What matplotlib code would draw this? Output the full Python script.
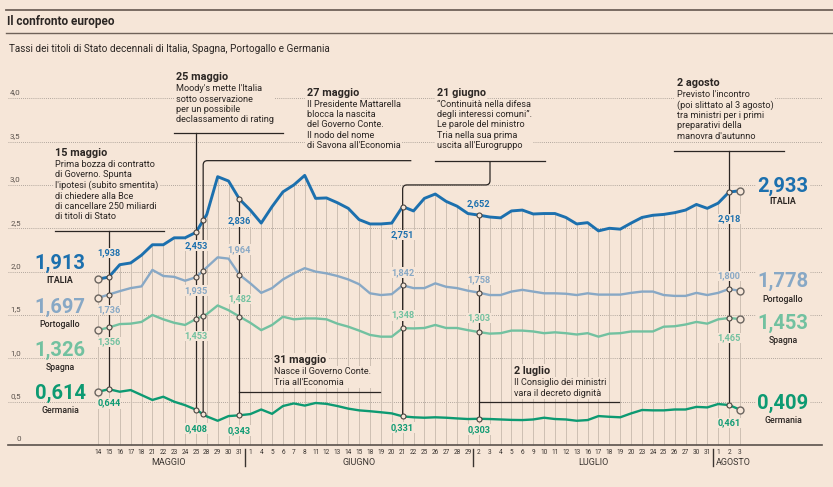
import numpy as np
import matplotlib.pyplot as plt
from matplotlib.lines import Line2D
from matplotlib.path import Path
from matplotlib.patches import PathPatch

plt.rcParams['font.family'] = ['Roboto', 'DejaVu Sans']

BG = '#f6e6d8'
INK = '#2b2623'
GRID = '#9c938b'
VGRID = '#cdbfb2'

# --- data -----------------------------------------------------------------
days = ['14', '15', '16', '17', '18', '21', '22', '23', '24', '25', '28', '29', '30', '31',
        '1', '4', '5', '6', '7', '8', '11', '12', '13', '14', '15', '18', '19', '20', '21',
        '22', '25', '26', '27', '28', '29',
        '2', '3', '4', '5', '6', '9', '10', '11', '12', '13', '16', '17', '18', '19', '20',
        '23', '24', '25', '26', '27', '30', '31',
        '1', '2', '3']
months = ['MAGGIO', 'GIUGNO', 'LUGLIO', 'AGOSTO']
month_len = [14, 21, 22, 3]

italia = [1.913, 1.938, 2.08, 2.10, 2.19, 2.31, 2.31, 2.39, 2.39, 2.453,
          2.66, 3.095, 3.045, 2.836, 2.71, 2.56, 2.75, 2.92, 3.00, 3.11,
          2.845, 2.85, 2.795, 2.73, 2.60, 2.55, 2.55, 2.56, 2.751, 2.70,
          2.845, 2.895, 2.81, 2.755, 2.67, 2.652, 2.63, 2.62, 2.70, 2.71,
          2.665, 2.67, 2.67, 2.625, 2.55, 2.565, 2.47, 2.50, 2.49, 2.56,
          2.625, 2.65, 2.66, 2.68, 2.71, 2.775, 2.73, 2.79, 2.918, 2.933]
portogallo = [1.697, 1.736, 1.775, 1.81, 1.83, 2.02, 1.95, 1.94, 1.895, 1.935,
              2.05, 2.165, 2.15, 1.964, 1.865, 1.755, 1.81, 1.91, 1.98, 2.04,
              2.00, 1.98, 1.95, 1.91, 1.855, 1.75, 1.73, 1.74, 1.842, 1.81,
              1.81, 1.865, 1.825, 1.81, 1.78, 1.758, 1.73, 1.73, 1.77, 1.79,
              1.77, 1.75, 1.75, 1.745, 1.73, 1.75, 1.735, 1.735, 1.735, 1.755,
              1.77, 1.77, 1.73, 1.72, 1.72, 1.755, 1.73, 1.755, 1.800, 1.778]
spagna = [1.326, 1.356, 1.395, 1.40, 1.42, 1.50, 1.45, 1.41, 1.385, 1.453,
          1.51, 1.61, 1.555, 1.482, 1.41, 1.325, 1.385, 1.48, 1.45, 1.46,
          1.46, 1.45, 1.40, 1.365, 1.32, 1.27, 1.25, 1.25, 1.348, 1.345,
          1.35, 1.385, 1.35, 1.35, 1.325, 1.303, 1.285, 1.29, 1.32, 1.32,
          1.31, 1.29, 1.30, 1.29, 1.275, 1.29, 1.25, 1.285, 1.29, 1.31,
          1.31, 1.31, 1.365, 1.37, 1.39, 1.42, 1.40, 1.45, 1.465, 1.453]
germania = [0.614, 0.644, 0.615, 0.634, 0.577, 0.52, 0.557, 0.50, 0.46, 0.408,
            0.33, 0.28, 0.334, 0.343, 0.357, 0.41, 0.36, 0.45, 0.48, 0.455,
            0.485, 0.475, 0.45, 0.42, 0.40, 0.39, 0.378, 0.365, 0.331, 0.32,
            0.315, 0.32, 0.315, 0.307, 0.30, 0.303, 0.30, 0.295, 0.29, 0.288,
            0.295, 0.315, 0.30, 0.295, 0.28, 0.288, 0.334, 0.326, 0.32, 0.365,
            0.404, 0.40, 0.40, 0.41, 0.41, 0.44, 0.434, 0.473, 0.461, 0.409]

names = ['ITALIA', 'Portogallo', 'Spagna', 'Germania']
series = [italia, portogallo, spagna, germania]
colors = ['#1c70ae', '#88a8c5', '#72c1a0', '#0d9a72']

# events: position on the day axis (27 May is a Sunday -> between 25 and 28)
ev_pos = [1, 9, 9 + 2/3, 13, 28, 35, 58]
ev_title = ['15 maggio', '25 maggio', '27 maggio', '31 maggio', '21 giugno', '2 luglio', '2 agosto']
ev_text = [
    "Prima bozza di contratto\ndi Governo. Spunta\nl'ipotesi (subito smentita)\ndi chiedere alla Bce\ndi cancellare 250 miliardi\ndi titoli di Stato",
    "Moody's mette l'Italia\nsotto osservazione\nper un possibile\ndeclassamento di rating",
    "Il Presidente Mattarella\nblocca la nascita\ndel Governo Conte.\nIl nodo del nome\ndi Savona all'Economia",
    "Nasce il Governo Conte.\nTria all'Economia",
    "\u201cContinuità nella difesa\ndegli interessi comuni\u201d.\nLe parole del ministro\nTria nella sua prima\nuscita all'Eurogruppo",
    "Il Consiglio dei ministri\nvara il decreto dignità",
    "Previsto l'incontro\n(poi slittato al 3 agosto)\ntra ministri per i primi\npreparativi della\nmanovra d'autunno",
]

# --- figure ---------------------------------------------------------------
fig = plt.figure(figsize=(8.33, 4.87), dpi=100, facecolor=BG)
ax = fig.add_axes([0, 0, 1, 1])
ax.set_facecolor(BG)
ax.set_xlim(-9.007, 67.555)
ax.set_ylim(-0.484, 5.133)
ax.axis('off')

n = len(days)
xs = np.arange(n)

def fmt(v):
    return f'{v:.3f}'.replace('.', ',')

# header
fig.add_artist(Line2D([6/833, 1], [1 - 10/487] * 2, color='#6f6259', lw=1.3))
fig.add_artist(Line2D([6/833, 1], [1 - 33/487] * 2, color='#6f6259', lw=1.0))
fig.text(7/833, 1 - 21.5/487, 'Il confronto europeo', fontsize=8.5, fontweight='bold',
         color=INK, va='center')
fig.text(9/833, 1 - 49/487, 'Tassi dei titoli di Stato decennali di Italia, Spagna, Portogallo e Germania',
         fontsize=7.2, color=INK, va='center')

# horizontal grid
for v in np.arange(0.5, 4.01, 0.5):
    ax.plot([-8.27, 66.5], [v, v], color=GRID, lw=0.6, ls=(0, (1, 1.5)), zorder=1)
    ax.text(-7.1, v + 0.03, f'{v:.1f}'.replace('.', ','), fontsize=5.8, color='#5a524c',
            ha='right', va='bottom', zorder=1)
ax.plot([-8.27, 66.5], [0, 0], color='#5a524c', lw=1.2, zorder=2)
ax.text(-7.1, 0.03, '0', fontsize=5.8, color='#5a524c', ha='right', va='bottom')

# vertical grid under Italy's curve
ax.vlines(xs, 0, italia, color=VGRID, lw=0.7, zorder=1)

# x labels
for i, d in enumerate(days):
    ax.text(i, -0.081, d, fontsize=4.7, color='#3a3430', ha='center', va='center')
start = 0
for k, (m, ln) in enumerate(zip(months, month_len)):
    if k < len(months) - 1:
        ax.plot([start + ln - 0.5] * 2, [-0.046, -0.242], color='#3a3430', lw=1.0)
        ax.text(start + (ln - 1) / 2, -0.196, m, fontsize=6.5, color='#3a3430',
                ha='center', va='center')
    else:
        ax.text(start - 0.2, -0.196, m, fontsize=6.5, color='#3a3430', ha='left', va='center')
    start += ln

# series
for s, c, lw in zip(series, colors, [2.1, 1.7, 1.7, 1.7]):
    ax.plot(xs, s, color=c, lw=lw, solid_joinstyle='round', zorder=2)

# event lines
def bracket(pts, r=(0.4, 0.05)):
    r = np.array(r)
    verts = [pts[0]]
    codes = [Path.MOVETO]
    for k in range(1, len(pts) - 1):
        p0, p1, p2 = (np.array(p, float) for p in pts[k - 1:k + 2])
        d0 = np.sign(p1 - p0)
        d1 = np.sign(p2 - p1)
        verts += [tuple(p1 - d0 * r), tuple(p1), tuple(p1 + d1 * r)]
        codes += [Path.LINETO, Path.CURVE3, Path.CURVE3]
    verts.append(pts[-1])
    codes.append(Path.LINETO)
    ax.add_patch(PathPatch(Path(verts, codes), fill=False, ec=INK, lw=0.9, zorder=3))

def at(s, x):
    return float(np.interp(x, xs, s))

# title position, body top, rule (y, x0, x1)
ev_layout = [
    dict(t=(-3.95, 3.37), b=3.285, rule=(2.47, -3.95, 6.1)),
    dict(t=(7.17, 4.245), b=4.16, rule=(3.60, 7.0, 17.0)),
    dict(t=(19.18, 4.056), b=3.98, rule=(3.28, 9.667, 28.8)),
    dict(t=(16.2, 0.98), b=0.897, rule=(0.615, 13, 25.9)),
    dict(t=(31.13, 4.056), b=3.98, rule=(3.276, 30.98, 41.08)),
    dict(t=(38.24, 0.857), b=0.77, rule=(0.496, 35, 47.9)),
    dict(t=(53.19, 4.17), b=4.097, rule=(3.395, 52.9, 63.05)),
]

for k, (x, title, body, lay) in enumerate(zip(ev_pos, ev_title, ev_text, ev_layout)):
    tx, ty = lay['t']
    ax.text(tx, ty, title, fontsize=7.8, fontweight='bold', color=INK, va='center', ha='left',
            zorder=4, bbox=dict(boxstyle='square,pad=0.15', fc=BG, ec='none'))
    ax.text(tx, lay['b'], body, fontsize=6.6, color=INK, va='top', ha='left',
            linespacing=1.18, zorder=4, bbox=dict(boxstyle='square,pad=0.15', fc=BG, ec='none'))
    ry, r0, r1 = lay['rule']
    g = at(germania, x)
    if k == 2:
        bracket([(r1, ry), (x, ry), (x, g)])
    elif k == 4:
        mid = (r0 + r1) / 2
        ax.plot([r0, r1], [ry, ry], color=INK, lw=0.9, zorder=3)
        bracket([(mid, ry), (mid, 3.0), (x, 3.0), (x, g)])
    elif k in (3, 5):
        ax.plot([r0, r1], [ry, ry], color=INK, lw=0.9, zorder=3)
        ax.plot([x, x], [at(italia, x), g], color=INK, lw=0.9, zorder=3)
    else:
        ax.plot([r0, r1], [ry, ry], color=INK, lw=0.9, zorder=3)
        ax.plot([x, x], [ry, g], color=INK, lw=0.9, zorder=3)
    for s in series:
        ax.plot(x, at(s, x), 'o', ms=3.6, mfc=BG, mec='#4a4440', mew=0.8, zorder=5)

# value labels at events (pixel offsets from the point; negative = above)
lab_events = [1, 9, 13, 28, 35, 58]
lab_dy = [[-24, 15.5, 14.6, 14], [13.4, 13, 17, 19], [22, -25, -17.5, 15],
          [28.5, -12.6, -13, 11], [-11, -13, -14, 11], [27, -13, 20, 18]]
for i, dys in zip(lab_events, lab_dy):
    for s, c, dy in zip(series, colors, dys):
        ax.annotate(fmt(s[i]), (i, s[i]), xytext=(0, -dy), textcoords='offset pixels',
                    fontsize=6.6, fontweight='bold', color=c, ha='center', va='center',
                    zorder=6, bbox=dict(boxstyle='square,pad=0.1', fc=BG, ec='none'))

# start / end markers and labels
left_y = [(2.10, 1.90), (1.59, 1.395), (1.096, 0.90), (0.60, 0.404)]
right_y = [(2.987, 2.806), (1.884, 1.68), (1.404, 1.211), (0.481, 0.28)]
for s, c, nm, ly, ry in zip(series, colors, names, left_y, right_y):
    for j in (0, n - 1):
        ax.plot(j, s[j], 'o', ms=5, mfc=BG, mec='#6b6560', mew=1.0, zorder=5)
    w = 'bold' if nm == 'ITALIA' else 'medium'
    ax.text(-3.49, ly[0], fmt(s[0]), fontsize=14.5, fontweight='bold', color=c, ha='center', va='center')
    ax.text(-3.49, ly[1], nm, fontsize=6.3, fontweight=w, color=INK, ha='center', va='center')
    ax.text(62.96, ry[0], fmt(s[-1]), fontsize=14.5, fontweight='bold', color=c, ha='center', va='center',
            zorder=4, bbox=dict(boxstyle='square,pad=0.05', fc=BG, ec='none'))
    ax.text(62.96, ry[1], nm, fontsize=6.3, fontweight=w, color=INK, ha='center', va='center')

fig.savefig('out.png', dpi=100, facecolor=BG)
